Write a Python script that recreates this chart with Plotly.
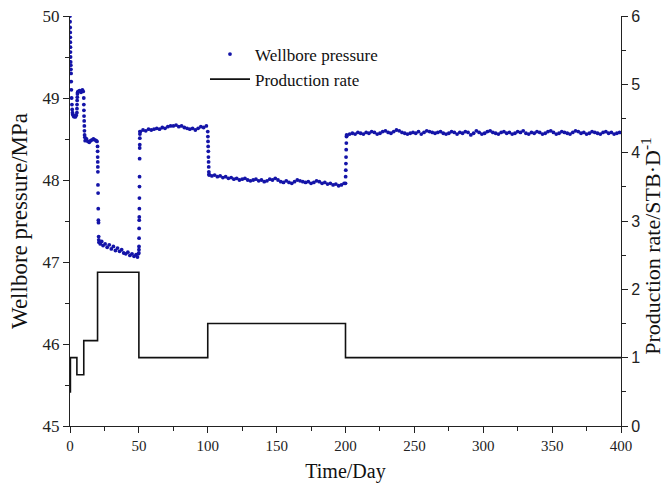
import plotly.graph_objects as go

# ---- production rate schedule (step function) ----
rate_time = [0, 0.3, 5, 10, 20, 50, 100, 200, 400]
rate_value = [0.5, 1.0, 0.75, 1.25, 2.25, 1.0, 1.5, 1.0, 1.0]

# ---- wellbore pressure, by flow period ----
p_time_0_5 = [0, 0.05, 0.1, 0.15, 0.2, 0.25, 0.3, 0.35, 0.4, 0.5, 0.6, 0.7, 0.8,
              0.9, 1.0, 1.2, 1.4, 1.6, 1.8, 2.0, 2.5, 3.0, 3.5, 4.0, 4.5]
p_val_0_5 = [50.0, 49.93, 49.86, 49.8, 49.74, 49.68, 49.62, 49.56, 49.5, 49.44, 49.4,
             49.35, 49.3, 49.2, 49.1, 49.0, 48.92, 48.86, 48.82, 48.8, 48.78, 48.77,
             48.78, 48.77, 48.79]

p_time_5_10 = [5.0, 5.05, 5.1, 5.2, 5.3, 5.4, 5.6, 6, 7, 8, 9, 9.6]
p_val_5_10 = [48.82, 48.87, 48.92, 48.97, 49.01, 49.05, 49.07, 49.08, 49.09, 49.07,
              49.1, 49.08]

p_time_10_20 = [10.0, 10.05, 10.1, 10.2, 10.3, 10.4, 10.5, 10.6, 10.8, 11, 12, 13,
                14, 15, 16, 17, 18, 19, 19.6]
p_val_10_20 = [49.0, 48.92, 48.85, 48.78, 48.72, 48.66, 48.6, 48.55, 48.52, 48.48,
               48.5, 48.47, 48.46, 48.48, 48.49, 48.5, 48.49, 48.48, 48.47]

p_time_20_50 = [20.0, 20.05, 20.1, 20.15, 20.2, 20.25, 20.3, 20.4, 20.5, 20.6, 20.7,
                20.8, 20.9, 21, 22, 23, 24, 25.5, 27, 28.5, 30, 31.5, 33, 34.5, 36,
                37.5, 39, 40.5, 42, 43.5, 45, 46.5, 48, 49, 49.6]
p_val_20_50 = [48.41, 48.35, 48.28, 48.22, 48.16, 48.1, 47.94, 47.84, 47.65, 47.51,
               47.48, 47.31, 47.27, 47.24, 47.22, 47.25, 47.2, 47.22, 47.18, 47.21,
               47.16, 47.19, 47.14, 47.17, 47.13, 47.15, 47.11, 47.1, 47.12, 47.08,
               47.1, 47.07, 47.09, 47.06, 47.1]

p_time_50_100 = [50.0, 50.05, 50.1, 50.15, 50.2, 50.25, 50.3, 50.35, 50.4, 50.45,
                 50.5, 50.55, 50.6, 50.65, 50.7, 50.75, 50.8,
                 51, 53, 55, 57, 59, 61, 63, 65, 67, 69, 71, 73, 75, 77, 79, 81, 83,
                 85, 87, 89, 91, 93, 95, 97, 99]
p_val_50_100 = [47.11, 47.15, 47.19, 47.29, 47.41, 47.51, 47.55, 47.65, 47.78, 47.92,
                48.04, 48.26, 48.39, 48.43, 48.51, 48.56, 48.59,
                48.59, 48.61, 48.6, 48.62, 48.61, 48.62, 48.63, 48.62, 48.64, 48.63,
                48.65, 48.66, 48.66, 48.67, 48.65, 48.66, 48.64, 48.63, 48.62, 48.63,
                48.61, 48.63, 48.65, 48.64, 48.66]

p_time_100_200 = [100.0, 100.1, 100.2, 100.3, 100.4, 100.5, 100.6, 100.7, 100.8,
                  100.9,
                  101, 103, 105, 107, 109, 111, 113, 115, 117, 119, 121, 123, 125, 127,
                  129, 131, 133, 135, 137, 139, 141, 143, 145, 147, 149, 151, 153, 155,
                  157, 159, 161, 163, 165, 167, 169, 171, 173, 175, 177, 179, 181, 183,
                  185, 187, 189, 191, 193, 195, 197, 199]
p_val_100_200 = [48.59, 48.53, 48.47, 48.41, 48.35, 48.28, 48.22, 48.16, 48.1, 48.07,
                 48.06, 48.05, 48.06, 48.04, 48.05, 48.03, 48.04, 48.02, 48.03, 48.01,
                 48.02, 48.0, 48.01, 48.02, 48.0, 47.99, 48.0, 48.01, 47.99, 48.0,
                 47.98, 47.99, 48.01, 48.0, 48.02, 48.0, 47.98, 47.97, 47.99, 47.97,
                 47.96, 47.98, 48.0, 47.99, 47.98, 47.97, 47.98, 47.96, 47.97, 47.99,
                 47.98, 47.96, 47.97, 47.95, 47.96, 47.94, 47.95, 47.93, 47.94, 47.96]

p_time_200_400 = [200.0, 200.1, 200.2, 200.3, 200.4, 200.5, 200.6, 200.7, 200.8,
                  201, 203, 205, 207, 209, 211, 213, 215, 217, 219, 221, 223, 225, 227,
                  229, 231, 233, 235, 237, 239, 241, 243, 245, 247, 249, 251, 253, 255,
                  257, 259, 261, 263, 265, 267, 269, 271, 273, 275, 277, 279, 281, 283,
                  285, 287, 289, 291, 293, 295, 297, 299, 301, 303, 305, 307, 309, 311,
                  313, 315, 317, 319, 321, 323, 325, 327, 329, 331, 333, 335, 337, 339,
                  341, 343, 345, 347, 349, 351, 353, 355, 357, 359, 361, 363, 365, 367,
                  369, 371, 373, 375, 377, 379, 381, 383, 385, 387, 389, 391, 393, 395,
                  397, 399]
p_val_200_400 = [47.96, 48.04, 48.12, 48.2, 48.28, 48.37, 48.45, 48.53, 48.55,
                 48.54, 48.56, 48.57, 48.56, 48.58, 48.57, 48.56, 48.58, 48.57, 48.59,
                 48.58, 48.56, 48.57, 48.59, 48.6, 48.58, 48.57, 48.59, 48.61, 48.6,
                 48.58, 48.57, 48.56, 48.57, 48.58, 48.57, 48.59, 48.56, 48.58, 48.6,
                 48.59, 48.58, 48.57, 48.58, 48.59, 48.57, 48.56, 48.57, 48.59, 48.58,
                 48.56, 48.58, 48.57, 48.59, 48.58, 48.55, 48.57, 48.6, 48.58, 48.56,
                 48.57, 48.59, 48.6, 48.58, 48.57, 48.56, 48.58, 48.59, 48.57, 48.58,
                 48.56, 48.57, 48.59, 48.58, 48.6, 48.57, 48.56, 48.58, 48.57, 48.59,
                 48.58, 48.56, 48.57, 48.59, 48.6, 48.58, 48.56, 48.57, 48.59, 48.58,
                 48.57, 48.56, 48.58, 48.6, 48.59, 48.57, 48.58, 48.56, 48.57, 48.59,
                 48.58, 48.57, 48.56, 48.58, 48.59, 48.57, 48.58, 48.56, 48.57, 48.58]

pressure_time = (p_time_0_5 + p_time_5_10 + p_time_10_20 + p_time_20_50
                 + p_time_50_100 + p_time_100_200 + p_time_200_400)
pressure_value = (p_val_0_5 + p_val_5_10 + p_val_10_20 + p_val_20_50
                  + p_val_50_100 + p_val_100_200 + p_val_200_400)

SERIF = "Liberation Serif, Times New Roman, serif"
SANS = "Liberation Sans, Arial, sans-serif"
BLUE = "#1414a8"

fig = go.Figure()
fig.add_trace(go.Scatter(
    x=pressure_time, y=pressure_value, mode="markers",
    marker=dict(size=3.8, color=BLUE),
    name="Wellbore pressure", yaxis="y",
))
fig.add_trace(go.Scatter(
    x=rate_time, y=rate_value, mode="lines", line_shape="hv",
    line=dict(color="#111111", width=1.6),
    name="Production rate", yaxis="y2",
))

axis_common = dict(
    showline=True, linecolor="#222222", linewidth=1.3,
    ticks="outside", ticklen=6, tickwidth=1.3, tickcolor="#222222",
    showgrid=False, zeroline=False,
)

fig.update_layout(
    width=667, height=483,
    margin=dict(l=70, r=46, t=16, b=57, autoexpand=False),
    paper_bgcolor="white", plot_bgcolor="white",
    showlegend=True,
    legend=dict(
        x=0.245, y=0.95, xanchor="left", yanchor="top",
        font=dict(family=SERIF, size=17, color="#111111"),
        bgcolor="rgba(0,0,0,0)", tracegroupgap=0, itemwidth=40,
    ),
    xaxis=dict(
        range=[0, 400], dtick=50, tick0=0,
        minor=dict(dtick=25, ticklen=4, ticks="outside", tickcolor="#222222"),
        tickfont=dict(family=SERIF, size=15, color="#222222"),
        title=dict(text="Time/Day", font=dict(family=SERIF, size=20, color="#111111"),
                   standoff=12),
        **axis_common,
    ),
    yaxis=dict(
        range=[45, 50], dtick=1, tick0=45,
        minor=dict(dtick=0.5, ticklen=4, ticks="outside", tickcolor="#222222"),
        tickfont=dict(family=SERIF, size=17, color="#222222"),
        title=dict(text="Wellbore pressure/MPa",
                   font=dict(family=SERIF, size=23, color="#111111"), standoff=8),
        **axis_common,
    ),
    yaxis2=dict(
        range=[0, 6], dtick=1, tick0=0, overlaying="y", side="right",
        minor=dict(dtick=0.5, ticklen=4, ticks="outside", tickcolor="#222222"),
        tickfont=dict(family=SANS, size=16, color="#222222"),
        **axis_common,
    ),
    annotations=[dict(
        text="Production rate/STB·D<sup>-1</sup>",
        xref="paper", yref="paper", x=1.053, y=0.44,
        xanchor="center", yanchor="middle", textangle=-90, showarrow=False,
        font=dict(family=SERIF, size=22, color="#111111"),
    )],
)

fig.write_html("out.html")
